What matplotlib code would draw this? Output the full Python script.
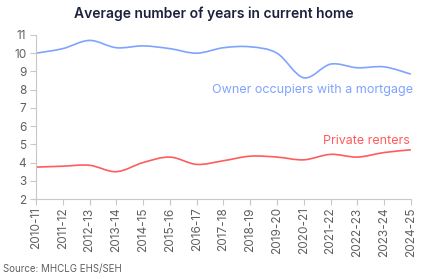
import matplotlib
matplotlib.use("Agg")
import matplotlib.pyplot as plt
from matplotlib.path import Path
from matplotlib.patches import PathPatch
import numpy as np

years = ["2010-11", "2011-12", "2012-13", "2013-14", "2014-15", "2015-16", "2016-17",
         "2017-18", "2018-19", "2019-20", "2020-21", "2021-22", "2022-23", "2023-24", "2024-25"]
owners = [10.0, 10.25, 10.7, 10.3, 10.4, 10.25, 10.0, 10.3, 10.35, 10.0, 8.65, 9.4, 9.2, 9.25, 8.85]
renters = [3.75, 3.8, 3.85, 3.5, 4.0, 4.3, 3.9, 4.1, 4.35, 4.3, 4.15, 4.45, 4.3, 4.55, 4.7]

blue = "#7fa3ff"
red = "#ff5c5c"
grey = "#c8c8c8"
text_col = "#606060"

plt.rcParams["font.family"] = ["Inter", "DejaVu Sans"]


def smooth_path(xs, ys):
    # catmull-rom through the points, drawn as bezier segments
    xs = np.asarray(xs, float)
    ys = np.asarray(ys, float)
    pts = np.column_stack([xs, ys])
    verts = [pts[0]]
    codes = [Path.MOVETO]
    n = len(pts)
    for i in range(n - 1):
        p0 = pts[i - 1] if i > 0 else pts[i]
        p1 = pts[i]
        p2 = pts[i + 1]
        p3 = pts[i + 2] if i + 2 < n else pts[i + 1]
        c1 = p1 + (p2 - p0) / 6.0
        c2 = p2 - (p3 - p1) / 6.0
        verts += [c1, c2, p2]
        codes += [Path.CURVE4] * 3
    return Path(verts, codes)


fig = plt.figure(figsize=(4.27, 2.79), dpi=100)
ax = fig.add_axes([0.0843, 0.2867, 0.878, 0.588])

x = np.arange(len(years))
for vals, col in [(owners, blue), (renters, red)]:
    ax.add_patch(PathPatch(smooth_path(x, vals), facecolor="none", edgecolor=col, lw=1.2))

ax.set_xlim(0, len(years) - 1)
ax.set_ylim(2, 11)
ax.set_yticks(range(2, 12))
ax.set_xticks(x)
ax.set_xticklabels(years, rotation=90)

for s in ["top", "right"]:
    ax.spines[s].set_visible(False)
for s in ["left", "bottom"]:
    ax.spines[s].set_color(grey)
    ax.spines[s].set_linewidth(0.8)
ax.tick_params(axis="both", colors=grey, labelcolor=text_col, labelsize=8.5, length=4, width=0.8)
ax.tick_params(axis="y", pad=3)
ax.tick_params(axis="x", pad=2)

ax.text(len(years) - 1 + 0.08, 8.0, "Owner occupiers with a mortgage", color=blue,
        fontsize=9, ha="right", va="center")
ax.text(len(years) - 1 - 0.05, 5.2, "Private renters", color=red,
        fontsize=9, ha="right", va="center")

fig.text(0.5, 0.95, "Average number of years in current home", ha="center", va="center",
         fontsize=10, color="#1c2140", fontweight="semibold")
fig.text(0.007, 0.035, "Source: MHCLG EHS/SEH", ha="left", va="center", fontsize=7, color=text_col)

fig.savefig("out.png", dpi=100)
